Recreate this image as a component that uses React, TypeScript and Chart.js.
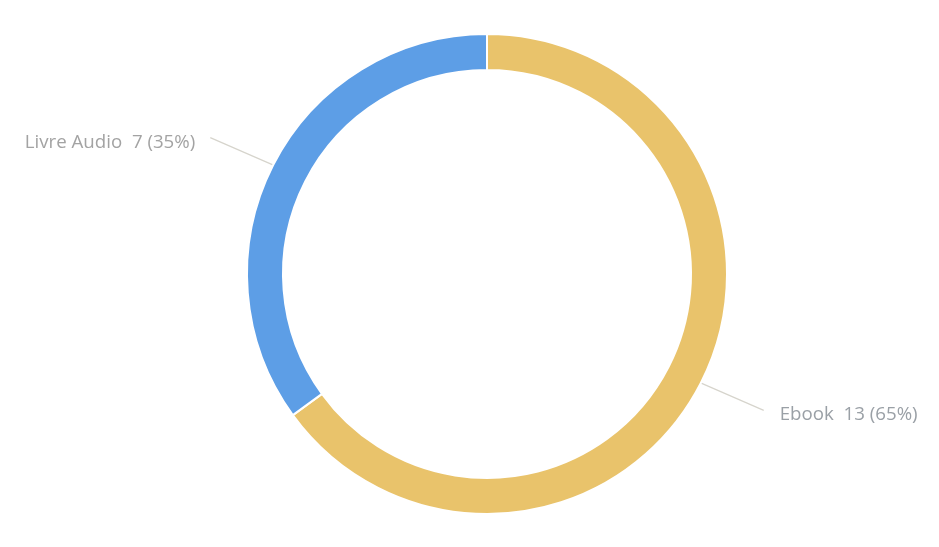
import { useRef, useEffect } from 'react'
import { Chart, ArcElement, DoughnutController, Plugin } from 'chart.js'

Chart.register(ArcElement, DoughnutController)

// chart data
const labels = ['Ebook', 'Livre Audio']
const values = [13, 7]
const colors = ['#e9c36b', '#5d9ee6']
const labelColors = ['#9aa0a6', '#a3a3a3']

const total = values.reduce((a, b) => a + b, 0)

// draws the outside labels with their leader lines
const outerLabels: Plugin<'doughnut'> = {
  id: 'outerLabels',
  afterDraw(chart) {
    const ctx = chart.ctx
    const meta = chart.getDatasetMeta(0)
    ctx.save()
    ctx.font = '18.7px "Open Sans", "Noto Sans", sans-serif'
    meta.data.forEach((el: any, i: number) => {
      const { x, y, startAngle, endAngle, outerRadius } = el.getProps(
        ['x', 'y', 'startAngle', 'endAngle', 'outerRadius'],
        true,
      )
      const mid = (startAngle + endAngle) / 2
      const cos = Math.cos(mid)
      const sin = Math.sin(mid)
      const x0 = x + cos * (outerRadius + 1)
      const y0 = y + sin * (outerRadius + 1)
      // leader goes out at a slightly flatter angle than the radius
      const x1 = x0 + Math.sign(cos) * 62
      const y1 = y0 + Math.sign(sin) * 27
      ctx.strokeStyle = '#d6d4cc'
      ctx.lineWidth = 1.2
      ctx.beginPath()
      ctx.moveTo(x0, y0)
      ctx.lineTo(x1, y1)
      ctx.stroke()

      const pct = Math.round((values[i] / total) * 100)
      const text = `${labels[i]}  ${values[i]} (${pct}%)`
      const right = cos >= 0
      ctx.fillStyle = labelColors[i]
      ctx.textBaseline = 'alphabetic'
      ctx.textAlign = right ? 'left' : 'right'
      ctx.fillText(text, right ? x1 + 16 : x1 - 15, y1 + 10)
    })
    ctx.restore()
  },
}

export default function App() {
  const canvasRef = useRef<HTMLCanvasElement>(null)
  const chartRef = useRef<Chart<'doughnut'> | null>(null)

  useEffect(() => {
    if (!canvasRef.current) return
    if (chartRef.current) chartRef.current.destroy()

    chartRef.current = new Chart(canvasRef.current, {
      type: 'doughnut',
      data: {
        labels,
        datasets: [{
          data: values,
          backgroundColor: colors,
          borderColor: '#ffffff',
          borderWidth: 2,
        }],
      },
      options: {
        responsive: true,
        maintainAspectRatio: false,
        animation: false,
        cutout: '85%',
        layout: { padding: { left: 35, right: 0, top: 33, bottom: 32 } },
        plugins: {
          legend: { display: false },
          tooltip: { enabled: false },
        },
      },
      plugins: [outerLabels],
    })

    return () => { chartRef.current?.destroy() }
  }, [])

  return (
    <div style={{ position: 'fixed', left: 0, top: 0, width: 939, height: 547, background: '#fff' }}>
      <canvas ref={canvasRef} />
    </div>
  )
}
